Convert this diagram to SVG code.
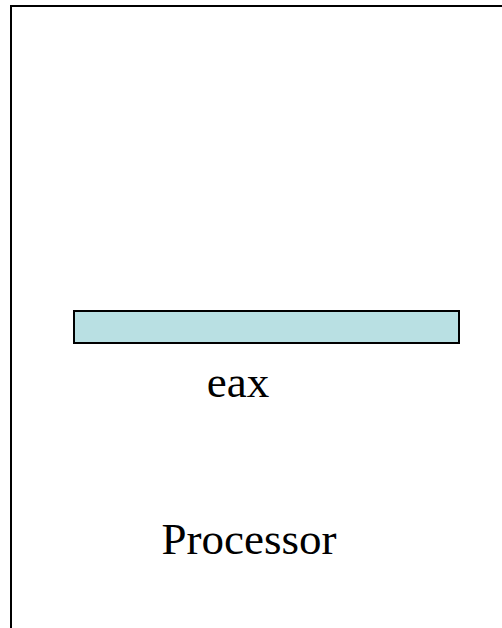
<svg xmlns="http://www.w3.org/2000/svg" width="502" height="628" viewBox="0 0 502 628">
  <style>
    .label { font-family: "Liberation Serif", "Times New Roman", serif; font-size: 45px; fill: #000; }
    .frame { fill: none; stroke: #000; stroke-width: 2; }
    .reg { fill: #B9E0E3; stroke: #000; stroke-width: 2; }
  </style>
  <rect width="502" height="628" fill="#fff"/>
  <g id="processor">
    <path class="frame" d="M11 640 V6 H520"/>
    <text class="label" x="249" y="554" text-anchor="middle">Processor</text>
  </g>
  <g id="eax">
    <rect class="reg" x="74" y="311" width="385" height="32"/>
    <text class="label" x="238" y="397" text-anchor="middle">eax</text>
  </g>
  <g id="connectors"/>
</svg>
